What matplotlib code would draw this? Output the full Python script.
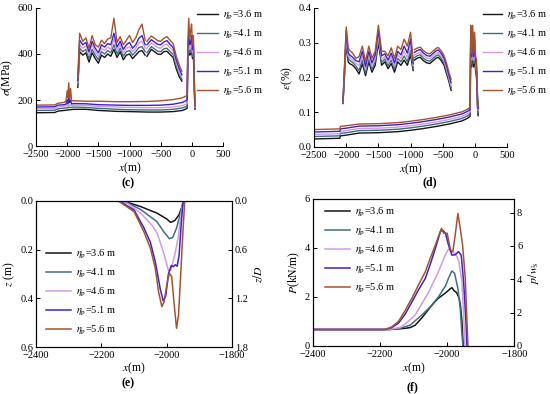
import numpy as np
import matplotlib
matplotlib.use("Agg")
import matplotlib.pyplot as plt

plt.rcParams['font.family'] = ['Liberation Serif', 'DejaVu Serif']
plt.rcParams['mathtext.fontset'] = 'stix'

labels = [r'$\eta_{\rm p}$=3.6 m', r'$\eta_{\rm p}$=4.1 m', r'$\eta_{\rm p}$=4.6 m',
          r'$\eta_{\rm p}$=5.1 m', r'$\eta_{\rm p}$=5.6 m']
colors = ['#151515', '#3f6f80', '#d49ae6', '#3b22d0', '#a5532e']

# ---------------- panel (c): stress ----------------
c_low_x = [-2500, -2200, -2150, -2050, -2020, -2000, -1990, -1975, -1960, -1945, -1930, -1900,
           -1700, -1500, -1200, -1000, -700, -500, -300, -150, -90, -75,
           -65, -50, -35, -20, -5, 10, 25, 38, 50]
c_low_36 = [145, 146, 152, 155, 156, 157, 157, 158, 158, 158, 159, 160, 160, 155, 151, 150, 148, 148, 150, 155, 162, 165,
            380, 420, 395, 400, 420, 380, 400, 250, 160]
c_low_41 = [155, 156, 162, 165, 166, 168, 166, 170, 167, 168, 168, 170, 168, 164, 160, 158, 157, 157, 160, 166, 172, 175,
            390, 430, 405, 410, 430, 390, 410, 260, 165]
c_low_46 = [163, 164, 170, 173, 175, 180, 174, 182, 176, 178, 176, 178, 177, 172, 170, 168, 167, 167, 170, 176, 182, 185,
            405, 450, 420, 430, 450, 405, 425, 275, 170]
c_low_51 = [170, 171, 178, 180, 182, 200, 185, 215, 190, 200, 183, 185, 184, 180, 178, 177, 177, 178, 182, 190, 198, 202,
            420, 480, 440, 450, 480, 420, 440, 290, 175]
c_low_56 = [178, 179, 186, 190, 195, 240, 210, 275, 205, 250, 197, 197, 195, 195, 193, 193, 194, 197, 202, 210, 218, 222,
            450, 555, 470, 500, 530, 440, 480, 310, 180]

c_up_x = [-1830, -1800, -1750, -1700, -1650, -1600, -1550, -1500, -1450, -1400, -1350, -1300,
          -1250, -1200, -1150, -1100, -1050, -1000, -950, -900, -850, -800, -750]
c_up_36 = [255, 410, 395, 405, 365, 405, 380, 360, 395, 385, 400, 390, 420, 385, 410, 375, 395, 400, 380, 395, 410, 415, 395]
c_up_41 = [265, 425, 410, 420, 380, 420, 395, 375, 410, 400, 415, 405, 440, 400, 425, 390, 410, 415, 395, 410, 428, 432, 410]
c_up_46 = [275, 440, 425, 435, 395, 440, 410, 390, 425, 415, 430, 420, 465, 415, 440, 405, 425, 430, 410, 425, 448, 455, 425]
c_up_51 = [285, 460, 440, 450, 410, 455, 425, 405, 440, 430, 445, 440, 490, 430, 455, 420, 440, 450, 425, 440, 468, 480, 440]
c_up_56 = [295, 490, 455, 470, 425, 480, 440, 430, 460, 445, 465, 470, 555, 450, 475, 440, 460, 480, 450, 470, 505, 530, 460]

c_hump_x = [-720, -650, -600, -550, -500, -450, -400, -350, -300, -250, -200, -160]
c_hump_36 = [390, 420, 410, 400, 398, 410, 412, 398, 385, 335, 300, 282]
c_hump_41 = [405, 432, 422, 412, 410, 422, 425, 410, 398, 348, 310, 290]
c_hump_46 = [425, 448, 438, 428, 425, 438, 442, 428, 412, 362, 320, 300]
c_hump_51 = [440, 462, 452, 442, 440, 452, 458, 442, 428, 375, 335, 310]
c_hump_56 = [455, 478, 468, 458, 455, 468, 475, 460, 445, 390, 350, 325]

# ---------------- panel (d): strain ----------------
d_low_x = [-2500, -2100, -2090, -2000, -1800, -1500, -1200, -1000, -800, -600, -400, -200, -120, -75,
           -65, -50, -35, -20, -5, 10, 25, 38, 50]
d_low_36 = [0.023, 0.025, 0.032, 0.034, 0.040, 0.041, 0.044, 0.048, 0.053, 0.059, 0.066, 0.075, 0.082, 0.088,
            0.30, 0.23, 0.28, 0.23, 0.26, 0.22, 0.20, 0.12, 0.09]
d_low_41 = [0.030, 0.032, 0.039, 0.041, 0.047, 0.048, 0.051, 0.055, 0.060, 0.066, 0.073, 0.082, 0.089, 0.095,
            0.31, 0.24, 0.29, 0.24, 0.27, 0.23, 0.21, 0.13, 0.10]
d_low_46 = [0.036, 0.038, 0.045, 0.047, 0.053, 0.054, 0.057, 0.061, 0.066, 0.072, 0.079, 0.088, 0.095, 0.101,
            0.32, 0.25, 0.31, 0.25, 0.29, 0.24, 0.22, 0.14, 0.105]
d_low_51 = [0.043, 0.045, 0.052, 0.054, 0.060, 0.061, 0.064, 0.068, 0.073, 0.079, 0.086, 0.095, 0.102, 0.108,
            0.33, 0.26, 0.33, 0.26, 0.31, 0.25, 0.23, 0.15, 0.11]
d_low_56 = [0.050, 0.052, 0.059, 0.061, 0.066, 0.067, 0.070, 0.074, 0.079, 0.085, 0.092, 0.101, 0.108, 0.114,
            0.35, 0.27, 0.35, 0.27, 0.33, 0.26, 0.25, 0.16, 0.12]

d_up_x = [-2050, -2000, -1970, -1950, -1900, -1850, -1800, -1750, -1700, -1650, -1600, -1550,
          -1500, -1450, -1400, -1350, -1300, -1250, -1200, -1150, -1100, -1050, -1000, -960]
d_up_36 = [0.125, 0.30, 0.245, 0.24, 0.235, 0.225, 0.21, 0.24, 0.205, 0.245, 0.215, 0.235,
           0.30, 0.235, 0.245, 0.225, 0.24, 0.215, 0.245, 0.235, 0.25, 0.235, 0.265, 0.22]
d_up_41 = [0.128, 0.31, 0.255, 0.25, 0.243, 0.233, 0.22, 0.25, 0.213, 0.255, 0.223, 0.245,
           0.31, 0.243, 0.253, 0.233, 0.25, 0.223, 0.255, 0.245, 0.262, 0.245, 0.278, 0.228]
d_up_46 = [0.13, 0.32, 0.263, 0.258, 0.25, 0.24, 0.235, 0.262, 0.222, 0.265, 0.232, 0.255,
           0.322, 0.252, 0.26, 0.242, 0.26, 0.232, 0.265, 0.255, 0.275, 0.258, 0.292, 0.235]
d_up_51 = [0.132, 0.335, 0.272, 0.265, 0.258, 0.248, 0.245, 0.275, 0.232, 0.275, 0.242, 0.265,
           0.335, 0.262, 0.268, 0.25, 0.27, 0.242, 0.275, 0.265, 0.29, 0.27, 0.31, 0.24]
d_up_56 = [0.135, 0.345, 0.285, 0.278, 0.27, 0.255, 0.26, 0.29, 0.245, 0.29, 0.255, 0.275,
           0.35, 0.275, 0.275, 0.262, 0.285, 0.255, 0.29, 0.28, 0.31, 0.29, 0.33, 0.25]

d_hump_x = [-940, -900, -850, -800, -750, -700, -650, -600, -570, -530, -480, -440, -400, -370]
d_hump_36 = [0.25, 0.255, 0.258, 0.248, 0.242, 0.24, 0.248, 0.256, 0.258, 0.25, 0.235, 0.21, 0.185, 0.163]
d_hump_41 = [0.257, 0.262, 0.265, 0.255, 0.249, 0.247, 0.255, 0.263, 0.265, 0.257, 0.242, 0.217, 0.19, 0.17]
d_hump_46 = [0.264, 0.269, 0.272, 0.262, 0.256, 0.254, 0.262, 0.27, 0.272, 0.264, 0.249, 0.224, 0.197, 0.177]
d_hump_51 = [0.272, 0.277, 0.28, 0.27, 0.263, 0.261, 0.269, 0.277, 0.279, 0.271, 0.256, 0.232, 0.204, 0.185]
d_hump_56 = [0.28, 0.284, 0.287, 0.277, 0.27, 0.268, 0.276, 0.284, 0.286, 0.278, 0.263, 0.24, 0.212, 0.195]

# ---------------- panel (e): penetration depth ----------------
e_x_36 = [-2400, -2145, -2120, -2080, -2030, -2000, -1988, -1975, -1963, -1955, -1949, -1945]
e_z_36 = [0, 0, 0.006, 0.023, 0.05, 0.074, 0.088, 0.08, 0.058, 0.03, 0.0, -0.02]
e_x_41 = [-2400, -2155, -2120, -2080, -2030, -2010, -1992, -1982, -1970, -1960, -1952, -1947, -1942]
e_z_41 = [0, 0, 0.008, 0.035, 0.085, 0.125, 0.155, 0.15, 0.112, 0.06, 0.02, 0.0, -0.02]
e_x_46 = [-2400, -2150, -2120, -2080, -2045, -2030, -2010, -1995, -1988, -1975, -1965, -1957, -1950, -1945]
e_z_46 = [0, 0, 0.01, 0.05, 0.10, 0.13, 0.21, 0.285, 0.285, 0.22, 0.15, 0.06, 0.0, -0.02]
e_x_51 = [-2400, -2145, -2100, -2070, -2050, -2035, -2020, -2011, -2003, -1995, -1986, -1980, -1974, -1968,
          -1962, -1956, -1950, -1945]
e_z_51 = [0, 0, 0.037, 0.11, 0.17, 0.25, 0.36, 0.41, 0.39, 0.30, 0.265, 0.27, 0.262, 0.268,
          0.22, 0.10, 0.0, -0.02]
e_x_56 = [-2400, -2148, -2100, -2070, -2050, -2035, -2025, -2015, -2008, -2000, -1992, -1985, -1978, -1970,
          -1964, -1958, -1951, -1945, -1940]
e_z_56 = [0, 0, 0.044, 0.126, 0.194, 0.277, 0.373, 0.434, 0.414, 0.345, 0.297, 0.31, 0.414, 0.523,
          0.468, 0.32, 0.14, 0.0, -0.03]
pipe_D = 1 / 3

# ---------------- panel (f): contact force ----------------
f_x_36 = [-2400, -2175, -2150, -2125, -2110, -2095, -2075, -2055, -2040, -2026, -2006, -1991, -1986, -1979,
          -1972, -1964, -1960, -1956, -1952]
f_p_36 = [0.67, 0.67, 0.69, 0.72, 0.75, 0.85, 1.15, 1.50, 1.75, 1.95, 2.15, 2.33, 2.38, 2.25,
          2.18, 1.95, 1.6, 1.0, 0.0]
f_x_41 = [-2400, -2170, -2140, -2110, -2075, -2050, -2026, -2005, -1996, -1986, -1978, -1968, -1961, -1956, -1953]
f_p_41 = [0.67, 0.67, 0.72, 0.85, 1.27, 1.6, 2.0, 2.45, 2.76, 3.06, 2.97, 2.35, 1.54, 0.5, 0.0]
f_x_46 = [-2400, -2175, -2140, -2120, -2095, -2055, -2026, -2006, -1996, -1988, -1976, -1966, -1956, -1950, -1947]
f_p_46 = [0.67, 0.67, 0.75, 0.95, 1.27, 2.2, 3.03, 3.7, 3.96, 3.85, 3.78, 3.5, 2.63, 1.0, 0.0]
f_x_51 = [-2400, -2185, -2165, -2145, -2125, -2105, -2085, -2065, -2050, -2035, -2020, -2013, -2005, -1996,
          -1986, -1976, -1966, -1958, -1951, -1944, -1941]
f_p_51 = [0.67, 0.67, 0.75, 0.93, 1.3, 1.8, 2.3, 2.76, 3.35, 3.99, 4.67, 4.73, 4.6, 4.12,
          3.71, 3.72, 3.85, 3.7, 2.63, 1.0, 0.0]
f_x_56 = [-2400, -2185, -2165, -2145, -2125, -2105, -2085, -2065, -2050, -2035, -2017, -2010, -2000, -1990,
          -1983, -1976, -1968, -1961, -1954, -1946, -1941, -1938]
f_p_56 = [0.67, 0.67, 0.78, 1.0, 1.45, 1.95, 2.5, 3.03, 3.6, 4.12, 4.8, 4.6, 4.6, 3.92,
          3.85, 4.53, 5.41, 4.8, 4.12, 2.76, 1.0, 0.0]
w_s = 0.68

TFS = 7.5
LFS = 8.5
LEG = dict(frameon=False, fontsize=7.5, handletextpad=0.5, labelspacing=0.58, borderaxespad=0,
           borderpad=0)


def style(ax, box=False):
    ax.tick_params(direction='in', length=3, width=0.7, labelsize=TFS, pad=2)
    ax.tick_params(axis='x', pad=3)
    for s in ax.spines.values():
        s.set_linewidth(0.8)
    if not box:
        ax.spines['top'].set_visible(False)
        ax.spines['right'].set_visible(False)


fig = plt.figure(figsize=(5.5, 3.94), dpi=100)

# (c)
ax_c = fig.add_axes([0.0655, 0.629, 0.34, 0.351])
c_low = [c_low_36, c_low_41, c_low_46, c_low_51, c_low_56]
c_up = [c_up_36, c_up_41, c_up_46, c_up_51, c_up_56]
c_hump = [c_hump_36, c_hump_41, c_hump_46, c_hump_51, c_hump_56]
for i in range(5):
    ax_c.plot(c_low_x, c_low[i], color=colors[i], lw=1.0, label=labels[i])
    ax_c.plot(c_up_x, c_up[i], color=colors[i], lw=1.0)
    ax_c.plot(c_hump_x, c_hump[i], color=colors[i], lw=1.0)
ax_c.set_xlim(-2500, 500)
ax_c.set_ylim(0, 600)
ax_c.set_xticks(range(-2500, 501, 500))
ax_c.set_yticks([0, 200, 400, 600])
ax_c.set_xlabel(r'$x$(m)', fontsize=LFS, labelpad=1)
ax_c.set_ylabel(r'$\sigma$(MPa)', fontsize=LFS, labelpad=2)
style(ax_c)
ax_c.legend(loc='upper left', bbox_to_anchor=(0.86, 0.995), handlelength=2.0, **LEG)

# (d)
ax_d = fig.add_axes([0.571, 0.627, 0.351, 0.353])
d_low = [d_low_36, d_low_41, d_low_46, d_low_51, d_low_56]
d_up = [d_up_36, d_up_41, d_up_46, d_up_51, d_up_56]
d_hump = [d_hump_36, d_hump_41, d_hump_46, d_hump_51, d_hump_56]
for i in range(5):
    ax_d.plot(d_low_x, d_low[i], color=colors[i], lw=1.0, label=labels[i])
    ax_d.plot(d_up_x, d_up[i], color=colors[i], lw=1.0)
    ax_d.plot(d_hump_x, d_hump[i], color=colors[i], lw=1.0)
ax_d.set_xlim(-2500, 500)
ax_d.set_ylim(0, 0.4)
ax_d.set_xticks(range(-2500, 501, 500))
ax_d.set_yticks([0.0, 0.1, 0.2, 0.3, 0.4])
ax_d.set_yticklabels(['0.0', '0.1', '0.2', '0.3', '0.4'])
ax_d.set_xlabel(r'$x$(m)', fontsize=LFS, labelpad=1)
ax_d.set_ylabel(r'$\varepsilon$(%)', fontsize=LFS, labelpad=2)
style(ax_d)
ax_d.legend(loc='upper left', bbox_to_anchor=(0.875, 0.995), handlelength=1.8, **LEG)

# (e)
ax_e = fig.add_axes([0.0655, 0.119, 0.3565, 0.371])
e_x = [e_x_36, e_x_41, e_x_46, e_x_51, e_x_56]
e_z = [e_z_36, e_z_41, e_z_46, e_z_51, e_z_56]
for i in range(5):
    ax_e.plot(e_x[i], e_z[i], color=colors[i], lw=1.1, label=labels[i])
ax_e.set_xlim(-2400, -1800)
ax_e.set_ylim(0.6, 0.0)
ax_e.set_xticks(range(-2400, -1799, 200))
ax_e.set_yticks([0.0, 0.2, 0.4, 0.6])
ax_e.set_yticklabels(['0.0', '0.2', '0.4', '0.6'])
ax_e.set_xlabel(r'$x$(m)', fontsize=LFS, labelpad=0)
ax_e.set_ylabel(r'$z$ (m)', fontsize=LFS, labelpad=2)
style(ax_e, box=True)
ax_e2 = ax_e.twinx()
ax_e2.set_ylim(0.6 / pipe_D, 0.0)
ax_e2.set_yticks([0.0, 0.6, 1.2, 1.8])
ax_e2.set_yticklabels(['0.0', '0.6', '1.2', '1.8'])
ax_e2.set_ylabel(r'$z/D$', fontsize=LFS, labelpad=3)
style(ax_e2, box=True)
ax_e.legend(loc='upper left', bbox_to_anchor=(0.05, 0.68), handlelength=2.4, **LEG)

# (f)
ax_f = fig.add_axes([0.569, 0.122, 0.366, 0.373])
f_x = [f_x_36, f_x_41, f_x_46, f_x_51, f_x_56]
f_p = [f_p_36, f_p_41, f_p_46, f_p_51, f_p_56]
for i in range(5):
    ax_f.plot(f_x[i], f_p[i], color=colors[i], lw=1.1, label=labels[i])
ax_f.set_xlim(-2400, -1800)
ax_f.set_ylim(0, 6)
ax_f.set_xticks(range(-2400, -1799, 200))
ax_f.set_yticks([0, 2, 4, 6])
ax_f.set_xlabel(r'$x$(m)', fontsize=LFS, labelpad=1)
ax_f.set_ylabel(r'$P$(kN/m)', fontsize=LFS, labelpad=2)
style(ax_f, box=True)
ax_f2 = ax_f.twinx()
ax_f2.set_ylim(0, 6 / w_s)
ax_f2.set_yticks([0, 2, 4, 6, 8])
ax_f2.set_ylabel(r'$p/w_{\rm s}$', fontsize=LFS, labelpad=3)
style(ax_f2, box=True)
ax_f.legend(loc='upper left', bbox_to_anchor=(0.06, 0.955), handlelength=2.4, **LEG)

fig.text(0.233, 1 - 183 / 394, '(c)', fontsize=8.5, fontweight='bold', ha='center', va='center')
fig.text(0.782, 1 - 182 / 394, '(d)', fontsize=8.5, fontweight='bold', ha='center', va='center')
fig.text(0.233, 1 - 383 / 394, '(e)', fontsize=8.5, fontweight='bold', ha='center', va='center')
fig.text(0.749, 1 - 387 / 394, '(f)', fontsize=8.5, fontweight='bold', ha='center', va='center')

fig.savefig('out.png', dpi=100)
